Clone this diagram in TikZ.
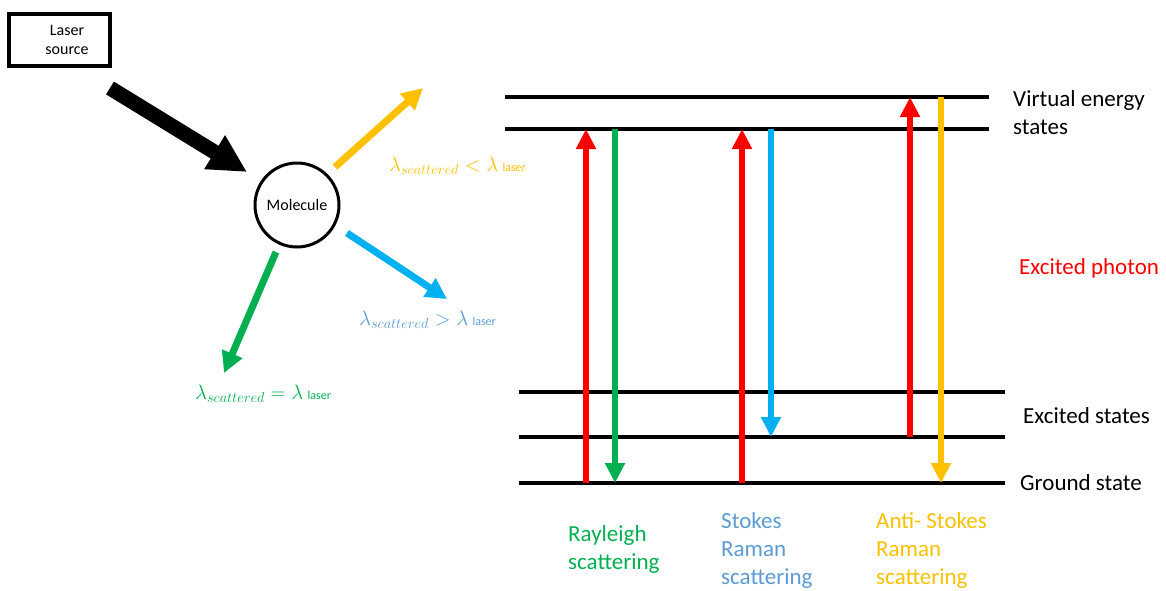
\documentclass[tikz,border=0pt]{standalone}
\usepackage{fontspec}
\setmainfont{Carlito}
\usetikzlibrary{arrows.meta}
\definecolor{cred}{HTML}{FF0000}
\definecolor{cgreen}{HTML}{00B050}
\definecolor{cblue}{HTML}{00B0F0}
\definecolor{cbluetext}{HTML}{5B9BD5}
\definecolor{cyellow}{HTML}{FFC000}
\begin{document}
\begin{tikzpicture}[x=1pt,y=-1pt,
  level/.style={line width=4pt},
  trans/.style={line width=6.5pt,-{Triangle[length=20pt,width=19pt]}},
  scat/.style={line width=7pt,-{Triangle[length=21pt,width=21pt]}},
  lbl/.style={font=\fontsize{23}{28}\selectfont,align=left,inner sep=0pt},
  mlbl/.style={font=\fontsize{19.5}{20}\selectfont,inner sep=0pt,anchor=west}]
\useasboundingbox (0,0) rectangle (1166,590);
% left part
\node[draw,line width=4pt,minimum width=101pt,minimum height=52pt,inner sep=0pt] (laser) at (59.5,40) {};
\node[font=\fontsize{16}{19}\selectfont,align=center,inner sep=0pt] (lasertxt) at (67,40) {Laser\\source};
\node[circle,draw,line width=3pt,minimum size=84pt,inner sep=0pt,font=\fontsize{16}{18}\selectfont] (mol) at (297,205) {Molecule};
\coordinate (bk0) at (110,88);
\coordinate (bk1) at (247,172);
\draw[line width=15pt,-{Triangle[length=38pt,width=37pt]}] (bk0) -- (bk1);
\coordinate (y0) at (335,167); \coordinate (y1) at (423,88);
\coordinate (b0) at (347,233); \coordinate (b1) at (447,299);
\coordinate (g0) at (276,252); \coordinate (g1) at (224,373);
\draw[scat,cyellow] (y0) -- (y1);
\draw[scat,cblue] (b0) -- (b1);
\draw[scat,cgreen] (g0) -- (g1);
\node[mlbl,text=cyellow] (ly) at (389,166) {$\lambda_{scattered} < \lambda$ {\fontsize{12}{12}\selectfont laser}};
\node[mlbl,text=cbluetext] (lb) at (359,320) {$\lambda_{scattered} > \lambda$ {\fontsize{12}{12}\selectfont laser}};
\node[mlbl,text=cgreen] (lg) at (195,394) {$\lambda_{scattered} = \lambda$ {\fontsize{12}{12}\selectfont laser}};
% energy levels
\coordinate (v1L) at (505,97);  \coordinate (v1R) at (989,97);
\coordinate (v2L) at (505,129); \coordinate (v2R) at (989,129);
\coordinate (e1L) at (519,392); \coordinate (e1R) at (1005,392);
\coordinate (e2L) at (519,437); \coordinate (e2R) at (1005,437);
\coordinate (gL) at (519,483);  \coordinate (gR) at (1005,483);
\foreach \a/\b in {v1L/v1R,v2L/v2R,e1L/e1R,e2L/e2R,gL/gR}
  \draw[level] (\a) -- (\b);
% transitions
\coordinate (r1a) at (586,483); \coordinate (r1b) at (586,129);
\coordinate (gr1a) at (615,129); \coordinate (gr1b) at (615,483);
\coordinate (r2a) at (742,483); \coordinate (r2b) at (742,129);
\coordinate (bl1a) at (771,129); \coordinate (bl1b) at (771,437);
\coordinate (r3a) at (910,437); \coordinate (r3b) at (910,97);
\coordinate (ye1a) at (941,97); \coordinate (ye1b) at (941,483);
\draw[trans,cred] (r1a) -- (r1b);
\draw[trans,cgreen] (gr1a) -- (gr1b);
\draw[trans,cred] (r2a) -- (r2b);
\draw[trans,cblue] (bl1a) -- (bl1b);
\draw[trans,cred] (r3a) -- (r3b);
\draw[trans,cyellow] (ye1a) -- (ye1b);
% labels right
\node[lbl,anchor=west] (tv) at (1013,113) {Virtual energy\\states};
\node[lbl,anchor=west,text=cred] (tp) at (1019,268) {Excited photon};
\node[lbl,anchor=west] (te) at (1023,416) {Excited states};
\node[lbl,anchor=west] (tg) at (1020,483) {Ground state};
% labels bottom
\node[lbl,anchor=west,text=cgreen] (tr) at (568,549) {Rayleigh\\scattering};
\node[lbl,anchor=west,text=cbluetext] (ts) at (721,550) {Stokes\\Raman\\scattering};
\node[lbl,anchor=west,text=cyellow] (ta) at (876,550) {Anti- Stokes\\Raman\\scattering};
\end{tikzpicture}
\end{document}
